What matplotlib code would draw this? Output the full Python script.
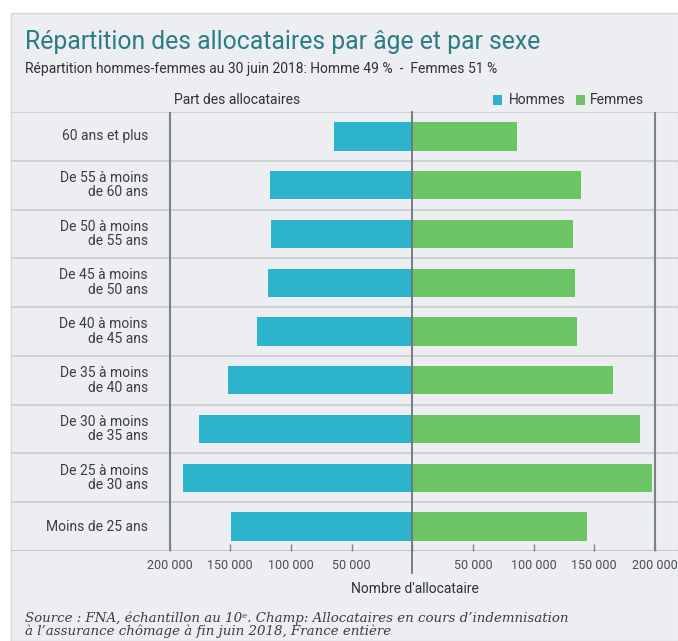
import matplotlib
matplotlib.use("Agg")
import matplotlib.pyplot as plt
from matplotlib.patches import Rectangle
from matplotlib import font_manager

names = {f.name for f in font_manager.fontManager.ttflist}
COND = "Liberation Sans Narrow" if "Liberation Sans Narrow" in names else "Roboto"

categories = ["60 ans et plus", "De 55 à moins\nde 60 ans", "De 50 à moins\nde 55 ans",
              "De 45 à moins\nde 50 ans", "De 40 à moins\nde 45 ans", "De 35 à moins\nde 40 ans",
              "De 30 à moins\nde 35 ans", "De 25 à moins\nde 30 ans", "Moins de 25 ans"]
hommes = [64500, 117300, 116500, 118900, 128300, 151900, 176100, 189300, 149200]
femmes = [86500, 139300, 132200, 134400, 135500, 165200, 187700, 197300, 143700]
tick_values = [-200000, -150000, -100000, -50000, 0, 50000, 100000, 150000, 200000]
tick_labels = ["200 000", "150 000", "100 000", "50 000", "", "50 000", "100 000", "150 000", "200 000"]

BLUE = "#2bb4cc"
GREEN = "#6cc565"
BG = "#eceef1"
W, H = 678, 641
fig = plt.figure(figsize=(W / 100, H / 100), dpi=100)
fig.patch.set_facecolor("white")

# panel background
panel = Rectangle((11 / W, 0), 1 - 11 / W, 1 - 13 / H, transform=fig.transFigure,
                  facecolor=BG, edgecolor="#d4d7db", linewidth=1.0, zorder=-5)
fig.patches.append(panel)

ax_left, ax_right = 11, 678
ax_top, ax_bot = 112, 551
ax = fig.add_axes([ax_left / W, 1 - ax_bot / H, (ax_right - ax_left) / W, (ax_bot - ax_top) / H])
ax.set_zorder(2)
ax.set_facecolor("none")

center_px = 412.3
px_per_unit = 1.2133 / 1000
ax.set_xlim((ax_left - center_px) / px_per_unit, (ax_right - center_px) / px_per_unit)
n = len(categories)
ax.set_ylim(n - 0.5, -0.5)

ys = list(range(n))
ax.barh(ys, [-v for v in hommes], height=0.58, color=BLUE, zorder=3)
ax.barh(ys, femmes, height=0.58, color=GREEN, zorder=3)

# row separators
for b in range(n):
    ax.axhline(b - 0.5, color="#c9cdd2", linewidth=1.2, zorder=1)
ax.axhline(n - 0.5, color="#b9bec4", linewidth=1.2, zorder=1)

# vertical lines
for xv in (-200000, 200000):
    ax.axvline(xv, color="#7d8288", linewidth=1.5, zorder=2)
ax.plot([0, 0], [-0.5, n - 0.5 + 22 / 48.8], color="#6f747a", linewidth=1.3, zorder=4, clip_on=False)

for s in ax.spines.values():
    s.set_visible(False)
ax.set_yticks([])
ax.set_xticks(tick_values)
ax.set_xticklabels(tick_labels, fontfamily=COND, fontsize=9, color="#4a4d52")
ax.tick_params(axis="x", direction="in", length=5, width=1, color="#7d8288", pad=6)

# category labels
lx = (148 - center_px) / px_per_unit
for y, lab in zip(ys, categories):
    ax.text(lx, y, lab, ha="right", va="center", multialignment="right", fontfamily=COND,
            fontsize=10, color="#3a3d42", linespacing=1.05)

# texts
fig.text(25 / W, 1 - 42 / H, "Répartition des allocataires par âge et par sexe", fontfamily=COND,
         fontsize=17.8, color="#2a7d85", va="center", ha="left")
fig.text(25 / W, 1 - 69 / H, "Répartition hommes-femmes au 30 juin 2018: Homme 49 %  -  Femmes 51 %",
         fontfamily=COND, fontsize=10, color="#2e3136", va="center", ha="left")
fig.text(237 / W, 1 - 100 / H, "Part des allocataires", fontfamily=COND, fontsize=10,
         color="#2e3136", va="center", ha="center")
fig.patches.append(Rectangle((493 / W, 1 - 104.5 / H), 9 / W, 9 / H, transform=fig.transFigure,
                             facecolor=BLUE, edgecolor="none"))
fig.text(509 / W, 1 - 100 / H, "Hommes", fontfamily=COND, fontsize=10, color="#2e3136",
         va="center", ha="left")
fig.patches.append(Rectangle((576 / W, 1 - 104.5 / H), 9 / W, 9 / H, transform=fig.transFigure,
                             facecolor=GREEN, edgecolor="none"))
fig.text(590 / W, 1 - 100 / H, "Femmes", fontfamily=COND, fontsize=10, color="#2e3136",
         va="center", ha="left")
fig.text(415 / W, 1 - 589 / H, "Nombre d'allocataire", fontfamily=COND, fontsize=10,
         color="#2e3136", va="center", ha="center")
fig.text(25 / W, 1 - 625 / H,
         "Source : FNA, échantillon au 10ᵉ. Champ: Allocataires en cours d’indemnisation\n"
         "à l’assurance chômage à fin juin 2018, France entière",
         fontfamily="DejaVu Serif", style="italic", fontsize=9.6, color="#3a3d42",
         va="center", ha="left", linespacing=0.98)

fig.savefig("out.png", dpi=100, facecolor="white")
